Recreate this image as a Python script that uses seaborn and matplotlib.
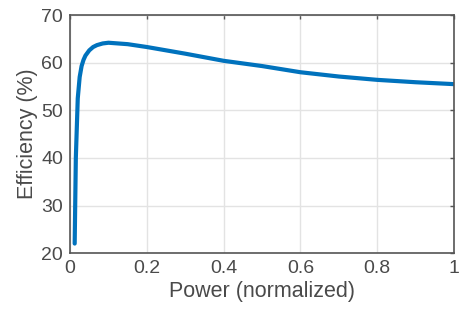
import numpy as np
import pandas as pd
import seaborn as sns
import matplotlib.pyplot as plt

power = [0.012, 0.015, 0.02, 0.025, 0.03, 0.035, 0.04, 0.05, 0.06, 0.07, 0.085, 0.1, 0.15,
         0.2, 0.3, 0.4, 0.5, 0.6, 0.7, 0.8, 0.9, 1.0]
efficiency = [22.0, 40.0, 52.5, 57.0, 59.3, 60.6, 61.5, 62.6, 63.3, 63.7, 64.05, 64.2, 63.9,
              63.3, 61.9, 60.4, 59.3, 58.0, 57.1, 56.4, 55.9, 55.5]
xticks = [0, 0.2, 0.4, 0.6, 0.8, 1]
xticklabels = ["0", "0.2", "0.4", "0.6", "0.8", "1"]
yticks = [20, 30, 40, 50, 60, 70]

data = pd.DataFrame({"power": power, "efficiency": efficiency})

sns.set_theme(style="white")
plt.rcParams['font.family'] = ['Liberation Sans', 'DejaVu Sans']

fig = plt.figure(figsize=(4.61, 3.22), dpi=100)
ax = fig.add_axes([0.152, 0.214, 0.833, 0.739])
sns.lineplot(data=data, x="power", y="efficiency", ax=ax, color="#0072BD", linewidth=3.0)

ax.set_xlim(0, 1)
ax.set_ylim(20, 70)
ax.set_xticks(xticks)
ax.set_xticklabels(xticklabels)
ax.set_yticks(yticks)
ax.grid(True, color="#e3e3e3", linewidth=1.0)
ax.set_axisbelow(True)
for s in ax.spines.values():
    s.set_visible(True)
    s.set_color("#555555")
    s.set_linewidth(1.2)
ax.tick_params(direction="in", length=3, width=1, color="#555555",
               top=True, right=True, labelsize=14, labelcolor="#4a4a4a", pad=5)
ax.set_xlabel("Power (normalized)", fontsize=15.5, color="#4a4a4a", labelpad=3)
ax.set_ylabel("Efficiency (%)", fontsize=15.5, color="#4a4a4a", labelpad=2)

fig.savefig("out.png", dpi=100)
